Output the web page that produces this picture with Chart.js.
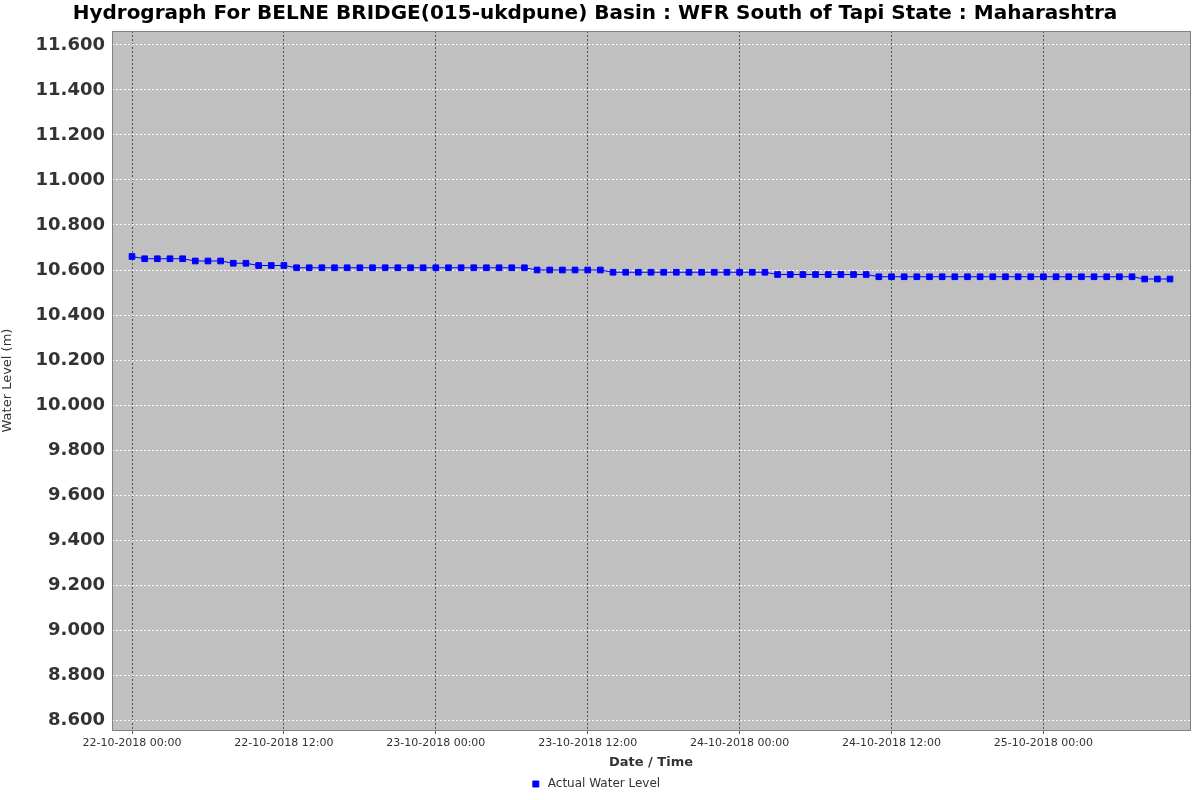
<!DOCTYPE html>
<html>
<head>
  <title>Hydrograph</title>
  <script src="https://cdn.jsdelivr.net/npm/chart.js"></script>
  <style>
    body { margin: 0; background: #fff; }
    #wrap { width: 1200px; height: 800px; position: relative; }
  </style>
</head>
<body>
  <div id="wrap"><canvas id="myChart"></canvas></div>
  <script>
    // hours since 22-10-2018 00:00
    var hours = [];
    for (var h = 0; h <= 82; h++) hours.push(h);
    var levels = [
      10.66, 10.65, 10.65, 10.65, 10.65, 10.64, 10.64, 10.64, 10.63, 10.63,
      10.62, 10.62, 10.62, 10.61, 10.61, 10.61, 10.61, 10.61, 10.61, 10.61,
      10.61, 10.61, 10.61, 10.61, 10.61, 10.61, 10.61, 10.61, 10.61, 10.61,
      10.61, 10.61, 10.60, 10.60, 10.60, 10.60, 10.60, 10.60, 10.59, 10.59,
      10.59, 10.59, 10.59, 10.59, 10.59, 10.59, 10.59, 10.59, 10.59, 10.59,
      10.59, 10.58, 10.58, 10.58, 10.58, 10.58, 10.58, 10.58, 10.58, 10.57,
      10.57, 10.57, 10.57, 10.57, 10.57, 10.57, 10.57, 10.57, 10.57, 10.57,
      10.57, 10.57, 10.57, 10.57, 10.57, 10.57, 10.57, 10.57, 10.57, 10.57,
      10.56, 10.56, 10.56
    ];
    var xTickLabels = ['22-10-2018 00:00', '22-10-2018 12:00', '23-10-2018 00:00',
      '23-10-2018 12:00', '24-10-2018 00:00', '24-10-2018 12:00', '25-10-2018 00:00'];
    var yTicks = [8.6, 8.8, 9.0, 9.2, 9.4, 9.6, 9.8, 10.0, 10.2, 10.4, 10.6, 10.8, 11.0, 11.2, 11.4, 11.6];

    var plotBg = {
      id: 'plotBg',
      beforeDraw: function (c) {
        var a = c.chartArea, g = c.ctx;
        g.save();
        g.fillStyle = '#c0c0c0';
        g.fillRect(a.left, a.top, a.right - a.left, a.bottom - a.top);
        g.restore();
      },
      afterDraw: function (c) {
        var a = c.chartArea, g = c.ctx;
        g.save();
        g.strokeStyle = '#808080';
        g.lineWidth = 1;
        g.strokeRect(a.left + 0.5, a.top + 0.5, a.right - a.left, a.bottom - a.top);
        g.restore();
      }
    };

    var data = {
      datasets: [{
        label: 'Actual Water Level',
        data: hours.map(function (h, i) { return { x: h, y: levels[i] }; }),
        borderColor: '#0000ff',
        backgroundColor: '#0000ff',
        borderWidth: 1,
        pointStyle: 'rect',
        pointRadius: 4,
        pointHoverRadius: 4,
        tension: 0
      }]
    };

    new Chart(document.getElementById('myChart'), {
      type: 'line',
      data: data,
      plugins: [plotBg],
      options: {
        responsive: true,
        maintainAspectRatio: false,
        animation: false,
        layout: { padding: { top: 0, right: 10, left: 0, bottom: 0 } },
        plugins: {
          title: {
            display: true,
            text: 'Hydrograph For BELNE BRIDGE(015-ukdpune) Basin : WFR South of Tapi State : Maharashtra',
            color: '#000',
            font: { family: 'DejaVu Sans', size: 20, weight: 'bold' },
            padding: { top: 2, bottom: 5 }
          },
          legend: {
            position: 'bottom',
            labels: {
              color: '#333',
              font: { family: 'DejaVu Sans', size: 12 },
              boxWidth: 14, boxHeight: 6,
              usePointStyle: true,
              padding: 8
            }
          },
          tooltip: { enabled: false }
        },
        scales: {
          x: {
            type: 'linear',
            min: -1.58, max: 83.58,
            afterBuildTicks: function (s) {
              s.ticks = xTickLabels.map(function (l, i) { return { value: i * 12 }; });
            },
            afterFit: function (s) { s.height = 40; },
            ticks: {
              autoSkip: false, maxRotation: 0,
              color: '#333',
              font: { family: 'DejaVu Sans', size: 11 },
              callback: function (v) { return xTickLabels[Math.round(v / 12)]; }
            },
            grid: { color: '#555', tickLength: 4, drawTicks: true },
            border: { display: false, dash: [2, 2] },
            title: {
              display: true, text: 'Date / Time', color: '#333',
              font: { family: 'DejaVu Sans', size: 13, weight: 'bold' }, padding: 0
            }
          },
          y: {
            min: 8.556, max: 11.662,
            afterBuildTicks: function (s) {
              s.ticks = yTicks.map(function (v) { return { value: v }; });
            },
            afterFit: function (s) { s.width = 112; },
            ticks: {
              color: '#333',
              font: { family: 'DejaVu Sans', size: 18, weight: 'bold' },
              callback: function (v) { return v.toFixed(3); }
            },
            grid: { color: '#ffffff', tickLength: 4 },
            border: { display: false, dash: [2, 2] },
            title: {
              display: true, text: 'Water Level (m)', color: '#333',
              font: { family: 'DejaVu Sans', size: 13 }, padding: 0
            }
          }
        }
      }
    });
  </script>
</body>
</html>
